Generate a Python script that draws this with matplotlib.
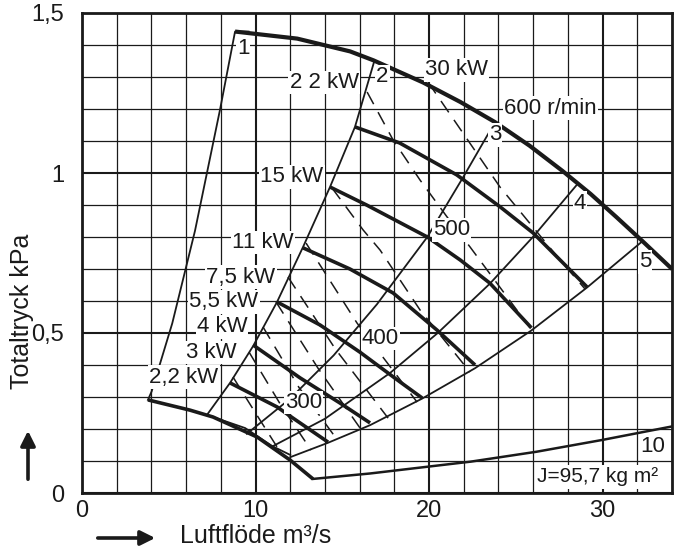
import matplotlib
matplotlib.use('Agg')
import matplotlib.pyplot as plt
from matplotlib.patches import FancyArrowPatch

plt.rcParams['font.family'] = ['Liberation Sans', 'DejaVu Sans']

# ---------------- data ----------------
# speed curves (Luftflöde m3/s, Totaltryck kPa)
n600_q = [8.82, 12.4, 15.45, 16.8, 19.65, 21.8, 23.8, 25.8, 27.7, 29.3, 30.8, 32.3, 34.0]
n600_p = [1.442, 1.42, 1.38, 1.352, 1.283, 1.222, 1.159, 1.085, 1.006, 0.935, 0.862, 0.787, 0.70]
n550_q = [15.73, 18.3, 21.6, 24.1, 26.0, 29.1]
n550_p = [1.144, 1.094, 0.994, 0.894, 0.8125, 0.644]
n500_q = [14.3, 16.4, 19.9, 21.8, 23.5, 25.9]
n500_p = [0.956, 0.90, 0.80, 0.728, 0.656, 0.516]
n450_q = [12.74, 15.44, 17.93, 20.46, 22.65]
n450_p = [0.766, 0.70, 0.625, 0.509, 0.40]
n400_q = [11.24, 13.72, 16.02, 18.33, 19.6]
n400_p = [0.597, 0.525, 0.44, 0.347, 0.297]
n350_q = [9.86, 12.56, 14.87, 16.6]
n350_p = [0.4625, 0.36, 0.281, 0.219]
n300_q = [8.53, 11.24, 12.16, 14.18]
n300_p = [0.344, 0.269, 0.234, 0.159]
n250_q = [7.2, 9.4, 10.95, 12.0]
n250_p = [0.244, 0.203, 0.147, 0.119]
bottom_q = [3.8, 6.22, 7.55, 10.09, 11.99, 13.31]
bottom_p = [0.291, 0.259, 0.2375, 0.175, 0.103, 0.044]
curve10_q = [13.31, 16.6, 22.4, 26.2, 30.0, 34.0]
curve10_p = [0.044, 0.061, 0.098, 0.129, 0.166, 0.208]

# system lines 1..5
line1_q = [3.8, 4.01, 5.2, 6.51, 7.95, 8.82, 9.6]
line1_p = [0.291, 0.317, 0.53, 0.819, 1.197, 1.442, 1.442]
line2_q = [7.2, 8.53, 9.86, 11.24, 12.74, 14.29, 15.73, 16.83]
line2_p = [0.244, 0.344, 0.459, 0.597, 0.769, 0.956, 1.144, 1.347]
line3_q = [9.5, 12.0, 14.5, 17.0, 19.9, 22.0, 23.8]
line3_p = [0.185, 0.295, 0.43, 0.59, 0.80, 0.99, 1.159]
line4_q = [10.95, 14.0, 17.75, 20.5, 23.5, 26.0, 28.5]
line4_p = [0.145, 0.232, 0.375, 0.50, 0.654, 0.801, 0.962]
line5_q = [12.0, 14.18, 16.6, 19.6, 22.65, 25.9, 29.1, 32.3]
line5_p = [0.112, 0.157, 0.212, 0.295, 0.39, 0.508, 0.642, 0.787]

# power lines (dashed)
kw30_q = [19.94, 24.09, 27.55, 28.99]
kw30_p = [1.284, 0.956, 0.728, 0.6375]
kw22_q = [16.43, 17.93, 19.48, 21.04, 22.36, 24.5, 25.82]
kw22_p = [1.253, 1.103, 0.978, 0.8625, 0.769, 0.6125, 0.516]
kw15_q = [14.41, 16.2, 17.18, 19.48, 22.36]
kw15_p = [0.953, 0.822, 0.759, 0.572, 0.378]
kw11_q = [12.91, 15.85, 19.31]
kw11_p = [0.781, 0.531, 0.284]
kw75_q = [11.87, 14.6, 17.64]
kw75_p = [0.675, 0.45, 0.234]
kw55_q = [11.18, 13.6, 16.14]
kw55_p = [0.597, 0.39, 0.194]
kw4_q = [10.43, 12.5, 14.76]
kw4_p = [0.519, 0.33, 0.1625]
kw3_q = [9.63, 11.4, 13.2]
kw3_p = [0.44, 0.28, 0.134]
kw22s_q = [8.7, 10.0, 11.24]
kw22s_p = [0.3625, 0.25, 0.144]

# texts
power_labels = ['2,2 kW', '3 kW', '4 kW', '5,5 kW', '7,5 kW', '11 kW', '15 kW', '2 2 kW', '30 kW']
power_label_q = [5.88, 7.44, 8.07, 8.18, 9.16, 10.43, 12.1, 13.95, 21.6]
power_label_p = [0.3625, 0.44, 0.519, 0.597, 0.675, 0.784, 0.9875, 1.284, 1.322]
speed_labels = ['600 r/min', '500', '400', '300']
speed_label_q = [27.0, 21.3, 17.2, 12.75]
speed_label_p = [1.203, 0.822, 0.484, 0.284]
point_labels = ['1', '2', '3', '4', '5', '10']
point_label_q = [9.28, 17.3, 23.8, 28.7, 32.45, 32.9]
point_label_p = [1.39, 1.30, 1.119, 0.906, 0.722, 0.144]

x_ticks = [0, 10, 20, 30]
x_ticklabels = ['0', '10', '20', '30']
y_ticks = [0, 0.5, 1.0, 1.5]
y_ticklabels = ['0', '0,5', '1', '1,5']

# ---------------- figure ----------------
W, H = 680, 554
fig = plt.figure(figsize=(W / 100, H / 100), dpi=100)
ax = fig.add_axes([82 / W, 1 - 493 / H, 590 / W, 480 / H])
ax.set_xlim(0, 34)
ax.set_ylim(0, 1.5)

ink = '#1a1a1a'
FS = 16

ax.set_xticks(x_ticks)
ax.set_xticklabels(x_ticklabels)
ax.set_yticks(y_ticks)
ax.set_yticklabels(y_ticklabels)
ax.set_xticks([v for v in range(0, 35, 2)], minor=True)
ax.set_yticks([i / 10 for i in range(16)], minor=True)
ax.tick_params(which='both', length=0)
ax.tick_params(axis='x', pad=5, labelsize=17, colors=ink)
ax.tick_params(axis='y', pad=13, labelsize=17, colors=ink)
ax.grid(which='minor', color=ink, lw=0.9, zorder=1)
ax.grid(which='major', color=ink, lw=1.5, zorder=1)
ax.set_axisbelow(True)
for s in ax.spines.values():
    s.set_linewidth(2.0)
    s.set_color(ink)

thick = dict(color=ink, lw=2.6, solid_capstyle='butt', solid_joinstyle='round', zorder=4)
thin = dict(color=ink, lw=1.3, zorder=3)
dash = dict(color=ink, lw=1.1, ls=(0, (9, 6)), zorder=3)

ax.plot(n600_q, n600_p, **{**thick, 'lw': 3.0})
for q, p in [(n550_q, n550_p), (n500_q, n500_p), (n450_q, n450_p),
             (n400_q, n400_p), (n350_q, n350_p), (n300_q, n300_p),
             (bottom_q, bottom_p)]:
    ax.plot(q, p, **thick)
ax.plot(curve10_q, curve10_p, **{**thin, 'lw': 1.8})
ax.plot(n250_q, n250_p, **thin)
for q, p in [(line1_q, line1_p), (line2_q, line2_p), (line3_q, line3_p),
             (line4_q, line4_p), (line5_q, line5_p)]:
    ax.plot(q, p, **thin)
for q, p in [(kw30_q, kw30_p), (kw22_q, kw22_p), (kw15_q, kw15_p),
             (kw11_q, kw11_p), (kw75_q, kw75_p), (kw55_q, kw55_p),
             (kw4_q, kw4_p), (kw3_q, kw3_p), (kw22s_q, kw22s_p)]:
    ax.plot(q, p, **dash)

box = dict(facecolor='white', edgecolor='none', pad=0.8)
for t, q, p in zip(power_labels, power_label_q, power_label_p):
    ax.text(q, p, t, ha='center', va='center', fontsize=FS, color=ink, bbox=box, zorder=6)
for t, q, p in zip(speed_labels, speed_label_q, speed_label_p):
    ax.text(q, p, t, ha='center', va='center', fontsize=FS, color=ink, bbox=box, zorder=6)
for t, q, p in zip(point_labels, point_label_q, point_label_p):
    ax.text(q, p, t, ha='center', va='center', fontsize=FS, color=ink, bbox=box, zorder=6)
ax.text(29.7, 0.05, 'J=95,7 kg m²', ha='center', va='center', fontsize=15,
        color=ink, bbox=dict(facecolor='white', edgecolor='none', pad=1.5), zorder=6)

# axis titles and arrows
fig.text(22 / W, 1 - 311 / H, 'Totaltryck kPa', rotation=90, ha='center', va='center',
         fontsize=18, color=ink)
fig.text(256 / W, 1 - 536 / H, 'Luftflöde m³/s', ha='center', va='center',
         fontsize=18, color=ink)
up = FancyArrowPatch((28 / W, 1 - 482 / H), (28 / W, 1 - 428 / H), transform=fig.transFigure,
                     arrowstyle='-|>', mutation_scale=22, lw=2.6, color=ink)
right = FancyArrowPatch((95 / W, 1 - 538 / H), (158 / W, 1 - 538 / H), transform=fig.transFigure,
                        arrowstyle='-|>', mutation_scale=22, lw=2.6, color=ink)
fig.patches.extend([up, right])

fig.savefig('out.png', dpi=100, facecolor='white')
